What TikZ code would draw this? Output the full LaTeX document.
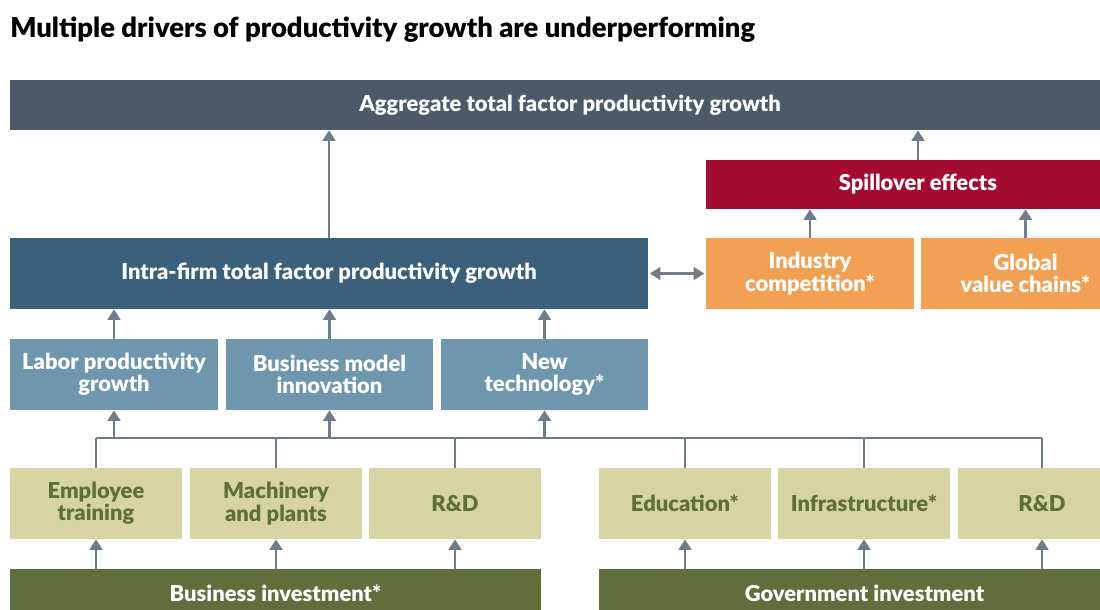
\documentclass[tikz,border=0pt]{standalone}
\usepackage{fontspec}
\setmainfont{Lato}[BoldFont={Lato Black}]
\usetikzlibrary{arrows.meta}
\definecolor{aggcol}{HTML}{4B5968}
\definecolor{spillcol}{HTML}{A30B2F}
\definecolor{intracol}{HTML}{3B6079}
\definecolor{orangecol}{HTML}{F2A154}
\definecolor{midcol}{HTML}{6E96AC}
\definecolor{khakicol}{HTML}{D5D4A2}
\definecolor{olivetext}{HTML}{5F6F38}
\definecolor{investcol}{HTML}{5F6E3B}
\definecolor{linkcol}{HTML}{6F7D8B}
\tikzset{
  box/.style={inner sep=0pt, align=center, font=\bfseries\fontsize{15.6}{15.8}\selectfont, text=white},
  aggbox/.style={box, fill=aggcol, minimum width=28cm, minimum height=1.25cm},
  spillbox/.style={box, fill=spillcol, minimum width=10.6cm, minimum height=1.225cm},
  intrabox/.style={box, fill=intracol, minimum width=15.95cm, minimum height=1.775cm},
  orangebox/.style={box, fill=orangecol, minimum width=5.2cm, minimum height=1.775cm},
  midbox/.style={box, fill=midcol, minimum width=5.18cm, minimum height=1.775cm},
  khakibox/.style={box, fill=khakicol, text=olivetext, minimum width=4.3cm, minimum height=1.775cm},
  investbox/.style={box, fill=investcol, minimum width=13.275cm, minimum height=1.2cm},
  titletext/.style={inner sep=0pt, anchor=west, font=\bfseries\fontsize{19.5}{21}\selectfont},
  link/.style={draw=linkcol, line width=1.8pt, -{Triangle[width=9pt,length=7.5pt]}},
  dlink/.style={draw=linkcol, line width=1.8pt, {Triangle[width=9pt,length=7.5pt]}-{Triangle[width=9pt,length=7.5pt]}},
  bus/.style={draw=linkcol, line width=1.8pt},
}

\begin{document}
\begin{tikzpicture}[x=0.025cm,y=-0.025cm]
\useasboundingbox (0,0) rectangle (1100,610);
\clip (0,0) rectangle (1100,610);
\node[titletext] (title) at (10,30) {Multiple drivers of productivity growth are underperforming};
\node[aggbox] (agg) at (570,105) {Aggregate total factor productivity growth};
\node[spillbox] (spill) at (918,184.5) {Spillover effects};
\node[intrabox] (intra) at (329,273.5) {Intra-firm total factor productivity growth};
\node[orangebox] (indus) at (810,273.5) {Industry\\competition*};
\node[orangebox] (gvc) at (1025.5,273.5) {Global\\value chains*};
\node[midbox] (labor) at (114,374.5) {Labor productivity\\growth};
\node[midbox] (bmodel) at (329.5,374.5) {Business model\\innovation};
\node[midbox] (newtech) at (544.5,374.5) {New\\technology*};
\node[khakibox] (train) at (96,503.5) {Employee\\training};
\node[khakibox] (mach) at (276,503.5) {Machinery\\and plants};
\node[khakibox] (brd) at (455,503.5) {R\&D};
\node[khakibox] (edu) at (685,503.5) {Education*};
\node[khakibox] (infra) at (864,503.5) {Infrastructure*};
\node[khakibox, minimum width=4.2cm] (grd) at (1042,503.5) {R\&D};
\node[investbox] (binv) at (275.5,593) {Business investment*};
\node[investbox] (ginv) at (864.5,593) {Government investment};
\coordinate (busl) at (96,438);
\coordinate (busr) at (1042,438);
\draw[link] (intra.north) -- (intra.north |- agg.south);
\draw[link] (spill.north) -- (spill.north |- agg.south);
\draw[link] (indus.north) -- (indus.north |- spill.south);
\draw[link] (gvc.north) -- (gvc.north |- spill.south);
\draw[dlink, shorten <=1pt, shorten >=1pt] (intra.east) -- (indus.west);
\draw[link] (labor.north) -- (labor.north |- intra.south);
\draw[link] (bmodel.north) -- (bmodel.north |- intra.south);
\draw[link] (newtech.north) -- (newtech.north |- intra.south);
\draw[bus] (busl) -- (busr);
\foreach \n in {train,mach,brd,edu,infra,grd}
  \draw[bus] (\n.north) -- (\n.north |- busl);
\draw[link] (labor.south |- busl) -- (labor.south);
\draw[link] (bmodel.south |- busl) -- (bmodel.south);
\draw[link] (newtech.south |- busl) -- (newtech.south);
\foreach \n in {train,mach,brd}
  \draw[link] (\n.south |- binv.north) -- (\n.south);
\foreach \n in {edu,infra,grd}
  \draw[link] (\n.south |- ginv.north) -- (\n.south);
\end{tikzpicture}
\end{document}
